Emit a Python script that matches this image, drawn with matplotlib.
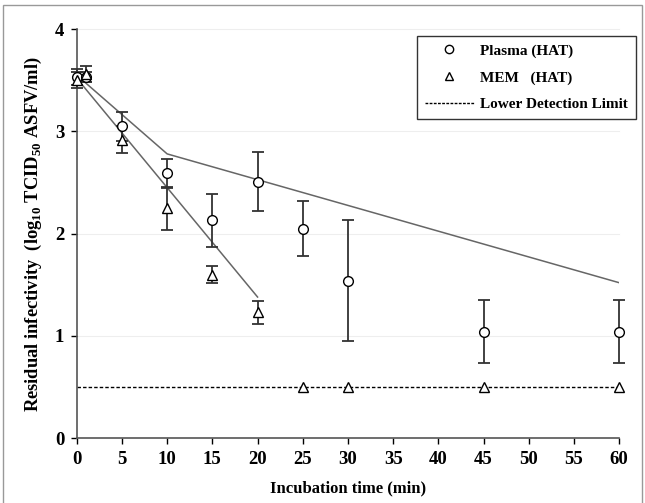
import matplotlib
matplotlib.use('Agg')
import matplotlib.pyplot as plt
from matplotlib.lines import Line2D
from matplotlib.patches import Rectangle

plt.rcParams['font.family'] = ['Liberation Serif', 'DejaVu Serif']
plt.rcParams['font.weight'] = 'bold'
plt.rcParams['mathtext.fontset'] = 'custom'
plt.rcParams['mathtext.rm'] = 'Liberation Serif:bold'
plt.rcParams['mathtext.bf'] = 'Liberation Serif:bold'

# plasma (HAT) - circles
plasma_t = [0, 1, 5, 10, 15, 20, 25, 30, 45, 60]
plasma_y = [3.53, 3.53, 3.05, 2.59, 2.13, 2.51, 2.05, 1.54, 1.04, 1.04]
plasma_err = [0.08, 0.05, 0.14, 0.14, 0.26, 0.29, 0.265, 0.59, 0.31, 0.31]

# MEM (HAT) - triangles
mem_t = [0, 1, 5, 10, 15, 20, 25, 30, 45, 60]
mem_y = [3.50, 3.56, 2.92, 2.25, 1.60, 1.23, 0.5, 0.5, 0.5, 0.5]
mem_err = [0.08, 0.08, 0.13, 0.21, 0.08, 0.11, 0, 0, 0, 0]

# trend lines
plasma_fit_t = [0, 10, 60]
plasma_fit_y = [3.55, 2.78, 1.52]
mem_fit_t = [0, 20]
mem_fit_y = [3.52, 1.38]

detect_limit = 0.5

fig = plt.figure(figsize=(6.45, 5.03), dpi=100)
ax = fig.add_axes([0.119, 0.129, 0.841, 0.813])

for v in [1, 2, 3, 4]:
    ax.axhline(v, color='#eeeeee', lw=0.8, zorder=0, clip_on=False)

ax.plot([0, 60], [detect_limit, detect_limit], color='black', lw=1,
        linestyle=(0, (2.5, 1.5)), zorder=1)
ax.plot(plasma_fit_t, plasma_fit_y, color='#666666', lw=1.1, zorder=2)
ax.plot(mem_fit_t, mem_fit_y, color='#666666', lw=1.1, zorder=2)

eb1 = ax.errorbar(plasma_t, plasma_y, yerr=plasma_err, fmt='none', ecolor='#333333',
                  elinewidth=1.3, capsize=4, capthick=1.3, zorder=3)
eb2 = ax.errorbar(mem_t[:6], mem_y[:6], yerr=mem_err[:6], fmt='none', ecolor='#333333',
                  elinewidth=1.3, capsize=4, capthick=1.3, zorder=3)
for eb in (eb1, eb2):
    for art in eb.lines[1] + eb.lines[2]:
        art.set_clip_on(False)

ax.plot(plasma_t, plasma_y, 'o', mfc='white', mec='black', mew=1, ms=7, ls='none',
        zorder=4, clip_on=False)
ax.plot(mem_t, mem_y, '^', mfc='white', mec='black', mew=1, ms=7.5, ls='none',
        zorder=4, clip_on=False)

ax.set_xlim(0, 60)
ax.set_ylim(0, 4)
ax.set_xticks(range(0, 61, 5))
ax.set_yticks([0, 1, 2, 3, 4])
ax.tick_params(direction='out', length=4, width=1, labelsize=13.5, pad=5)
for lab in ax.get_xticklabels() + ax.get_yticklabels():
    lab.set_fontweight('bold')
ax.spines['top'].set_visible(False)
ax.spines['right'].set_visible(False)
ax.spines['left'].set_color('#555555')
ax.spines['bottom'].set_color('#555555')
ax.spines['left'].set_linewidth(1.2)
ax.spines['bottom'].set_linewidth(1.2)

ax.set_xlabel('Incubation time (min)', fontsize=12, fontweight='bold', labelpad=9)
ax.set_ylabel(r'Residual infectivity  (log$_{10}$ TCID$_{50}$ ASFV/ml)',
              fontsize=13.3, fontweight='bold', labelpad=8)

handles = [
    Line2D([], [], marker='o', ls='none', mfc='white', mec='black', ms=6),
    Line2D([], [], marker='^', ls='none', mfc='white', mec='black', ms=6),
    Line2D([], [], color='black', lw=1, linestyle=(0, (2, 1))),
]
labels = ['Plasma (HAT)', 'MEM   (HAT)', 'Lower Detection Limit']
leg = fig.legend(handles, labels, loc='upper right', bbox_to_anchor=(0.986, 0.928),
                 borderaxespad=0, frameon=True, fancybox=False, edgecolor='black',
                 prop={'weight': 'bold', 'size': 11}, handlelength=3.2,
                 handletextpad=0.45, labelspacing=0.85, borderpad=0.5)
leg.get_frame().set_linewidth(1)

fig.patches.append(Rectangle((0.005, -0.01), 0.99, 1.0, transform=fig.transFigure,
                             fill=False, edgecolor='#999999', lw=1))

fig.savefig('out.png', dpi=100)
